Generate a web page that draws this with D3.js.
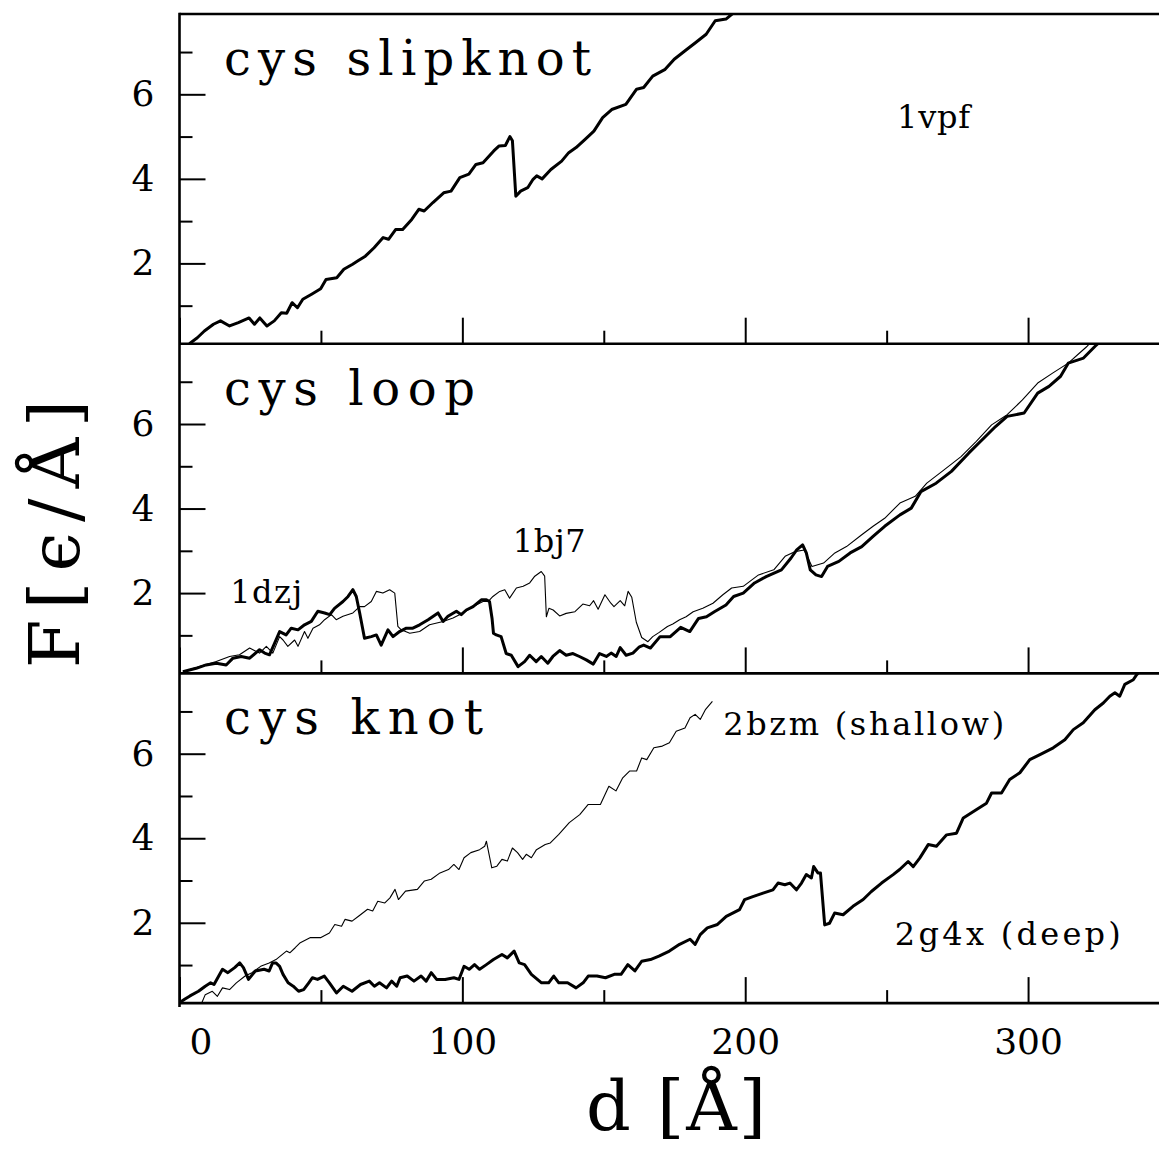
<!DOCTYPE html>
<html><head><meta charset="utf-8">
<script src="https://cdn.jsdelivr.net/npm/d3@7"></script>
<style>body{margin:0;background:#fff}svg{display:block}</style>
</head><body>
<svg id="chart" width="1159" height="1149"></svg>
<script>
// ---------- data ----------
const panelTitles = ["cys slipknot", "cys loop", "cys knot"];
const xMajorTicks = [0, 100, 200, 300];
const xMinorTicks = [50, 150, 250, 350];
const yMajorTicks = [2, 4, 6];
const yMinorTicks = [1, 3, 5, 7];

const vpf1 = [[3.5,0.1],[6.3,0.24],[8.8,0.40],[12,0.56],[14.5,0.64],[17.7,0.52],[20.8,0.60],[24.6,0.71],[26.5,0.56],[28.4,0.71],[30.9,0.52],[33.5,0.64],[36,0.83],[37.9,0.82],[39.8,1.07],[41.7,0.95],[43.6,1.15],[46.7,1.27],[49.9,1.40],[51.8,1.62],[55.6,1.66],[58.1,1.86],[61.2,1.98],[63.1,2.06],[65.7,2.17],[68.8,2.37],[72,2.61],[73.9,2.57],[76.4,2.80],[78.9,2.80],[82.1,3.04],[84.6,3.28],[86.5,3.24],[89.6,3.44],[93.4,3.67],[96,3.71],[99.1,4.03],[102.3,4.11],[104.8,4.34],[107.3,4.38],[111.1,4.66],[113,4.78],[115.2,4.79],[116.8,5.0],[117.7,4.90],[118.9,3.59],[120.6,3.71],[123.1,3.79],[125,3.99],[126.3,4.07],[128.2,4.0],[131.3,4.22],[135.1,4.42],[137.6,4.62],[140.2,4.74],[143.3,4.93],[146.5,5.13],[149.6,5.45],[152.8,5.64],[157.8,5.76],[161.6,6.12],[164.1,6.16],[167.3,6.43],[171.7,6.59],[174.9,6.83],[179.3,7.06],[182.4,7.22],[186.2,7.42],[189.4,7.74],[193.2,7.78],[196.3,7.95]];

const dzj1 = [[1.2,0.14],[3.5,0.18],[5.9,0.22],[9.4,0.30],[13,0.34],[16.5,0.30],[18.9,0.46],[21.8,0.50],[24.8,0.46],[28.3,0.66],[30.1,0.58],[31.8,0.54],[33.6,0.81],[35.4,1.09],[37.7,1.01],[39.5,1.17],[41.9,1.13],[44.2,1.25],[46.6,1.33],[48.9,1.57],[51.3,1.53],[53.1,1.49],[54.8,1.64],[57.8,1.80],[59.6,1.92],[61.3,2.08],[62.5,1.92],[63.7,1.53],[65.4,0.93],[67.8,0.97],[69.6,1.01],[71.3,0.77],[73.7,1.13],[75.5,0.97],[77.8,1.09],[80.2,1.17],[82.5,1.17],[84.9,1.25],[87.9,1.37],[91.4,1.53],[93.2,1.33],[94.9,1.45],[97.9,1.57],[99.6,1.49],[101.4,1.60],[103.8,1.68],[106.7,1.84],[108.5,1.84],[109.6,1.80],[110.5,1.40],[111,1.05],[112,1.01],[113.7,0.97],[115.5,0.57],[117.3,0.53],[119.7,0.26],[122,0.38],[123.8,0.53],[126.1,0.38],[127.9,0.50],[130.2,0.34],[132,0.50],[134.4,0.64],[136.7,0.53],[139.1,0.57],[141.4,0.50],[143.8,0.42],[146.3,0.32],[148.5,0.57],[150.9,0.50],[152.6,0.58],[154.4,0.50],[155.8,0.71],[157.9,0.53],[160.3,0.58],[162.6,0.73],[164.1,0.77],[166.5,0.70],[169.9,0.97],[173.5,0.97],[177.2,1.19],[180.4,1.09],[183.5,1.40],[186.3,1.44],[189.1,1.56],[193.2,1.72],[195.9,1.92],[199.3,2.0],[203.3,2.24],[207.4,2.39],[212.8,2.55],[216.2,2.83],[218.2,3.02],[220.3,3.14],[221.6,2.95],[223,2.55],[225,2.43],[227,2.39],[229.1,2.63],[233.1,2.75],[237.1,2.95],[241.2,3.10],[245.2,3.34],[249.3,3.58],[254.7,3.85],[258.7,4.01],[262.1,4.40],[267.5,4.60],[272.9,4.88],[279,5.31],[284.4,5.67],[288.5,5.94],[292.6,6.18],[298.6,6.26],[303.4,6.73],[307.4,6.89],[311.5,7.13],[314.2,7.44],[319.6,7.56],[323.7,7.84],[325.5,7.95]];

const bj71 = [[1.2,0.14],[7,0.26],[13,0.38],[17.7,0.50],[21.2,0.54],[24.8,0.70],[28.3,0.58],[30.7,0.74],[33,0.58],[35.4,0.97],[36.6,0.89],[38.3,0.74],[40.7,0.89],[41.9,0.74],[44.2,1.09],[45.4,0.93],[47.2,1.17],[49.5,1.25],[51.3,1.37],[53.7,1.49],[55.4,1.37],[57.8,1.45],[61.3,1.53],[63.7,1.68],[65.4,1.68],[67.8,1.80],[69.6,2.04],[71.9,2.0],[74.3,2.08],[76.1,2.0],[77.2,1.21],[78.4,1.13],[81.4,1.05],[84.9,1.09],[88.4,1.25],[93.2,1.33],[96.7,1.41],[100.2,1.53],[103.8,1.68],[107.3,1.80],[109.1,1.80],[110.8,1.92],[113.2,2.04],[115,2.08],[116.7,1.88],[119.1,2.12],[121.5,2.16],[123.8,2.24],[125.6,2.40],[127.9,2.51],[129.1,2.40],[129.7,1.44],[130.6,1.64],[132.1,1.60],[134.4,1.46],[136.7,1.52],[139.8,1.56],[142.6,1.74],[145,1.70],[146.4,1.82],[148,1.62],[150.4,1.96],[152.5,1.76],[153.6,1.68],[155.8,1.82],[157.4,1.70],[158.6,2.04],[159.9,1.90],[161.5,1.31],[163.4,0.95],[165.6,0.85],[167.3,0.97],[169.6,1.07],[172.5,1.21],[174.4,1.27],[176.8,1.37],[179.1,1.44],[181.6,1.56],[185,1.64],[188.6,1.76],[192.1,1.96],[195.2,2.12],[199.3,2.16],[204.7,2.43],[210.1,2.55],[214.1,2.87],[217.5,2.98],[220.9,3.02],[223.6,2.63],[227.7,2.71],[231.7,2.95],[235.8,3.10],[241.2,3.38],[245.2,3.58],[249.3,3.77],[254.7,4.13],[260.1,4.29],[264.2,4.60],[269.6,4.88],[276.3,5.23],[281.7,5.59],[287.1,5.98],[292.6,6.22],[298,6.57],[303.4,6.97],[308.8,7.21],[314.2,7.44],[318.2,7.68],[320.9,7.84],[322.5,7.95]];

const bzm2 = [[7.9,0.11],[9.1,0.30],[11.6,0.38],[13.4,0.26],[15.2,0.46],[17.7,0.42],[20.1,0.58],[23.2,0.74],[25.6,0.82],[28.7,0.97],[31.7,1.05],[34.1,1.13],[37.8,1.33],[39,1.29],[40.9,1.41],[42.7,1.53],[46.3,1.65],[50,1.65],[53,1.76],[54.9,1.96],[57.3,1.92],[58.5,2.08],[61,2.04],[63.4,2.16],[66.5,2.32],[68.3,2.28],[70.1,2.51],[72.6,2.47],[74.4,2.59],[76.2,2.79],[77.4,2.55],[79.9,2.75],[84.1,2.79],[86.6,2.99],[89,3.03],[92.1,3.18],[95.1,3.26],[97,3.38],[98.8,3.26],[100.6,3.54],[103,3.66],[106.1,3.73],[107.9,3.81],[108.5,3.93],[110.4,3.30],[112.2,3.34],[114,3.50],[115.9,3.46],[117.7,3.77],[119.5,3.66],[121.3,3.50],[122.6,3.62],[124.4,3.54],[126.2,3.73],[129.3,3.85],[131.1,3.89],[134.1,4.09],[137.8,4.37],[141.5,4.56],[144.5,4.80],[148.8,4.80],[151.8,5.23],[154.3,5.12],[156.7,5.43],[159.1,5.59],[161.6,5.59],[163.4,5.90],[165.2,5.86],[167.7,6.14],[170.7,6.18],[173.2,6.26],[175.6,6.53],[178.7,6.61],[180.5,6.85],[182.3,6.93],[184.1,6.81],[186,7.05],[188.4,7.24]];

const g4x2 = [[0,0.11],[1.8,0.19],[3.7,0.27],[6.7,0.38],[9.1,0.50],[11,0.58],[12.2,0.54],[15.2,0.90],[17.1,0.82],[19.5,0.94],[21.3,1.05],[22.6,0.94],[24.4,0.66],[26.8,0.86],[29.9,0.90],[31.7,0.86],[32.9,1.05],[34.1,1.05],[35.4,0.97],[36.6,0.78],[38.4,0.58],[40.2,0.50],[42.1,0.38],[43.9,0.42],[45.7,0.58],[47,0.70],[48.8,0.66],[51.2,0.74],[53,0.58],[55.5,0.34],[57.9,0.50],[61,0.38],[64,0.54],[67.1,0.62],[68.9,0.50],[70.7,0.58],[73.2,0.46],[75,0.62],[76.8,0.50],[78,0.70],[80.5,0.74],[82.9,0.62],[85.4,0.74],[87.2,0.62],[89,0.82],[90.9,0.66],[93.9,0.66],[97,0.70],[98.8,0.66],[100.6,0.97],[102.4,0.90],[104.3,1.01],[106.1,0.90],[108.5,1.01],[111,1.13],[114,1.25],[115.9,1.17],[118.3,1.33],[120.1,1.05],[122,1.01],[124.4,0.78],[128,0.58],[130.5,0.58],[132.3,0.74],[134.1,0.58],[137.2,0.58],[140.2,0.46],[142.7,0.58],[144.5,0.74],[147.6,0.74],[150.6,0.70],[153.7,0.78],[156.1,0.78],[158.5,1.01],[161,0.86],[163.4,1.09],[166.5,1.13],[169.5,1.21],[173.2,1.33],[176.8,1.49],[180.5,1.61],[182.3,1.49],[184.1,1.72],[186.6,1.88],[190.2,1.96],[193.3,2.15],[198,2.31],[199.8,2.55],[202.7,2.62],[206.3,2.70],[209.8,2.78],[211.6,2.94],[214,2.90],[215.8,2.94],[218.1,2.78],[219.9,2.94],[221.6,3.14],[223.4,3.06],[224.2,3.33],[225.7,3.18],[226.6,3.18],[228.1,1.95],[229.8,1.99],[231.6,2.23],[234.6,2.19],[238.1,2.39],[241.7,2.55],[244.6,2.74],[248.2,2.94],[252.3,3.14],[254.6,3.26],[257.6,3.45],[259.4,3.33],[261.7,3.53],[264.7,3.85],[267.6,3.81],[271.2,4.08],[274.7,4.12],[277.1,4.48],[281.8,4.68],[285.3,4.83],[287.1,5.07],[290.6,5.07],[293.5,5.39],[297.1,5.55],[300.6,5.86],[304.2,5.98],[308.9,6.14],[313,6.33],[316,6.57],[319.5,6.73],[323.6,7.04],[326.6,7.20],[328.9,7.36],[330.7,7.44],[332.4,7.36],[334.2,7.64],[337.2,7.75],[338.4,7.87],[339.5,7.95]];

// series per panel: [data, thick?]
const panelSeries = [
  [[vpf1, true]],
  [[bj71, false], [dzj1, true]],
  [[bzm2, false], [g4x2, true]]
];
// annotation labels: panel, text, x, y (data coords), width
const annotations = [
  [0, "1vpf", 253.7, 5.20, 73],
  [1, "1dzj", 17.9, 1.77, 72],
  [1, "1bj7", 117.8, 2.98, 73],
  [2, "2bzm (shallow)", 192.2, 6.44, 281],
  [2, "2g4x (deep)", 252.9, 1.47, 226]
];

// ---------- layout ----------
const svg = d3.select("#chart");
const FONT = "DejaVu Serif, Liberation Serif, serif";
const top0 = 14, panelH = 329.7;
const x = d3.scaleLinear().domain([0, 350]).range([179.5, 1169.5]);
const line = d3.line().x(d => x(d[0]));

panelSeries.forEach((series, i) => {
  const top = top0 + i * panelH;
  const y = d3.scaleLinear().domain([0.1, 7.9]).range([top + panelH, top]);
  const g = svg.append("g");

  svg.append("clipPath").attr("id", "clip" + i).append("rect")
    .attr("x", x(0)).attr("y", top).attr("width", 1200).attr("height", panelH);

  // y axis: major with labels, minor without
  const yMaj = g.append("g").attr("transform", `translate(${x(0)},0)`)
    .call(d3.axisLeft(y).tickValues(yMajorTicks).tickSize(-26).tickPadding(25).tickFormat(d3.format("d")));
  const yMin = g.append("g").attr("transform", `translate(${x(0)},0)`)
    .call(d3.axisLeft(y).tickValues(yMinorTicks).tickSize(-13).tickFormat(""));
  // x axis along bottom of panel, ticks inward
  const xMaj = g.append("g").attr("transform", `translate(0,${top + panelH})`)
    .call(d3.axisBottom(x).tickValues(xMajorTicks).tickSize(-26).tickPadding(25)
      .tickFormat(i === 2 ? d3.format("d") : ""));
  const xMin = g.append("g").attr("transform", `translate(0,${top + panelH})`)
    .call(d3.axisBottom(x).tickValues(xMinorTicks).tickSize(-13).tickFormat(""));
  [yMaj, yMin, xMaj, xMin].forEach(a => {
    a.select(".domain").remove();
    a.selectAll(".tick line").attr("stroke", "#000").attr("stroke-width", 2);
    a.selectAll(".tick text").attr("font-family", FONT).attr("font-size", 36).attr("fill", "#000");
  });
  xMaj.selectAll(".tick").filter(d => d === 0).select("text").attr("dx", 21);

  // curves
  const lg = g.append("g").attr("clip-path", `url(#clip${i})`);
  line.y(d => y(d[1]));
  series.forEach(([data, thick]) => {
    lg.append("path").datum(data).attr("d", line)
      .attr("fill", "none").attr("stroke", "#000")
      .attr("stroke-width", thick ? 3 : 1.1)
      .attr("stroke-linejoin", "round");
  });

  // panel title
  const titleLen = [367, 251, 259][i];
  g.append("text").attr("x", 224).attr("y", top + 61)
    .attr("font-family", FONT).attr("font-size", 48)
    .attr("textLength", titleLen).attr("lengthAdjust", "spacing")
    .text(panelTitles[i]);

  annotations.filter(a => a[0] === i).forEach(a => {
    g.append("text").attr("x", x(a[2])).attr("y", y(a[3]))
      .attr("font-family", FONT).attr("font-size", 32)
      .attr("textLength", a[4]).attr("lengthAdjust", "spacing")
      .text(a[1]);
  });
});

// frame lines
const frame = svg.append("g").attr("stroke", "#000").attr("stroke-width", 2.6);
frame.append("line").attr("x1", x(0)).attr("x2", x(0)).attr("y1", top0 - 1.3).attr("y2", top0 + 3 * panelH + 4);
for (let k = 0; k <= 3; k++) {
  const yy = top0 + k * panelH;
  frame.append("line").attr("x1", x(0)).attr("x2", 1200).attr("y1", yy).attr("y2", yy);
}

// axis titles
svg.append("text").attr("x", 586).attr("y", 1130)
  .attr("font-family", FONT).attr("font-size", 70)
  .attr("textLength", 180).attr("lengthAdjust", "spacing")
  .text("d [Å]");
svg.append("text").attr("transform", "translate(79,668) rotate(-90)")
  .attr("font-family", FONT).attr("font-size", 70)
  .attr("textLength", 268).attr("lengthAdjust", "spacing")
  .text("F[ϵ/Å]");
</script>
</body></html>
